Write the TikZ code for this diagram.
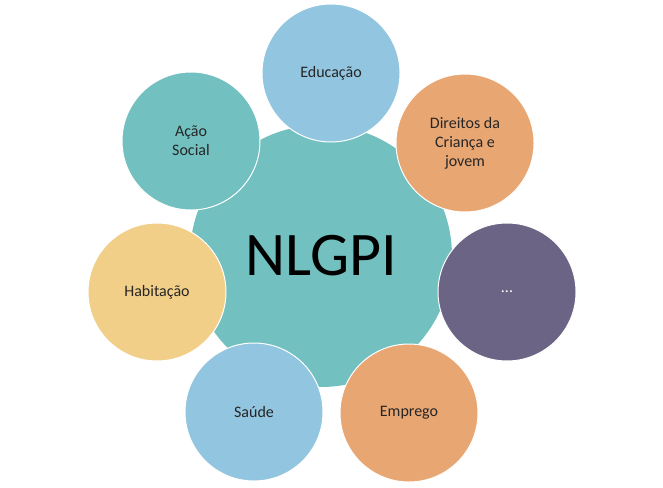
\documentclass[tikz,border=0pt]{standalone}
\usepackage{fontspec}
\setmainfont{Carlito}
\definecolor{teal1}{HTML}{72C0C0}
\definecolor{blue1}{HTML}{92C5DF}
\definecolor{orange1}{HTML}{E8A673}
\definecolor{purple1}{HTML}{6C6485}
\definecolor{yellow1}{HTML}{F2CF88}
\tikzset{sat/.style={circle,minimum size=138pt,inner sep=0pt,draw=white,line width=1pt,align=center,font=\fontsize{16}{19}\selectfont,text=black!85}}
\begin{document}
\begin{tikzpicture}[x=1pt,y=-1pt]
\useasboundingbox (0,0) rectangle (663,487);
\node[circle,fill=teal1,minimum size=262pt,inner sep=0pt,font=\fontsize{62}{70}\selectfont] (c) at (321,256) {NLGPI};
\node[sat,fill=blue1] (edu) at (331,73) {Educação};
\node[sat,fill=orange1] (dir) at (465,143) {Direitos da\\Criança e\\jovem};
\node[sat,fill=purple1,text=white] (dots) at (507,292) {...};
\node[sat,fill=orange1] (emp) at (409,413) {Emprego};
\node[sat,fill=blue1] (sau) at (254,412) {Saúde};
\node[sat,fill=yellow1] (hab) at (157,292) {Habitação};
\node[sat,fill=teal1] (aca) at (191,141) {Ação\\Social};
\end{tikzpicture}
\end{document}
